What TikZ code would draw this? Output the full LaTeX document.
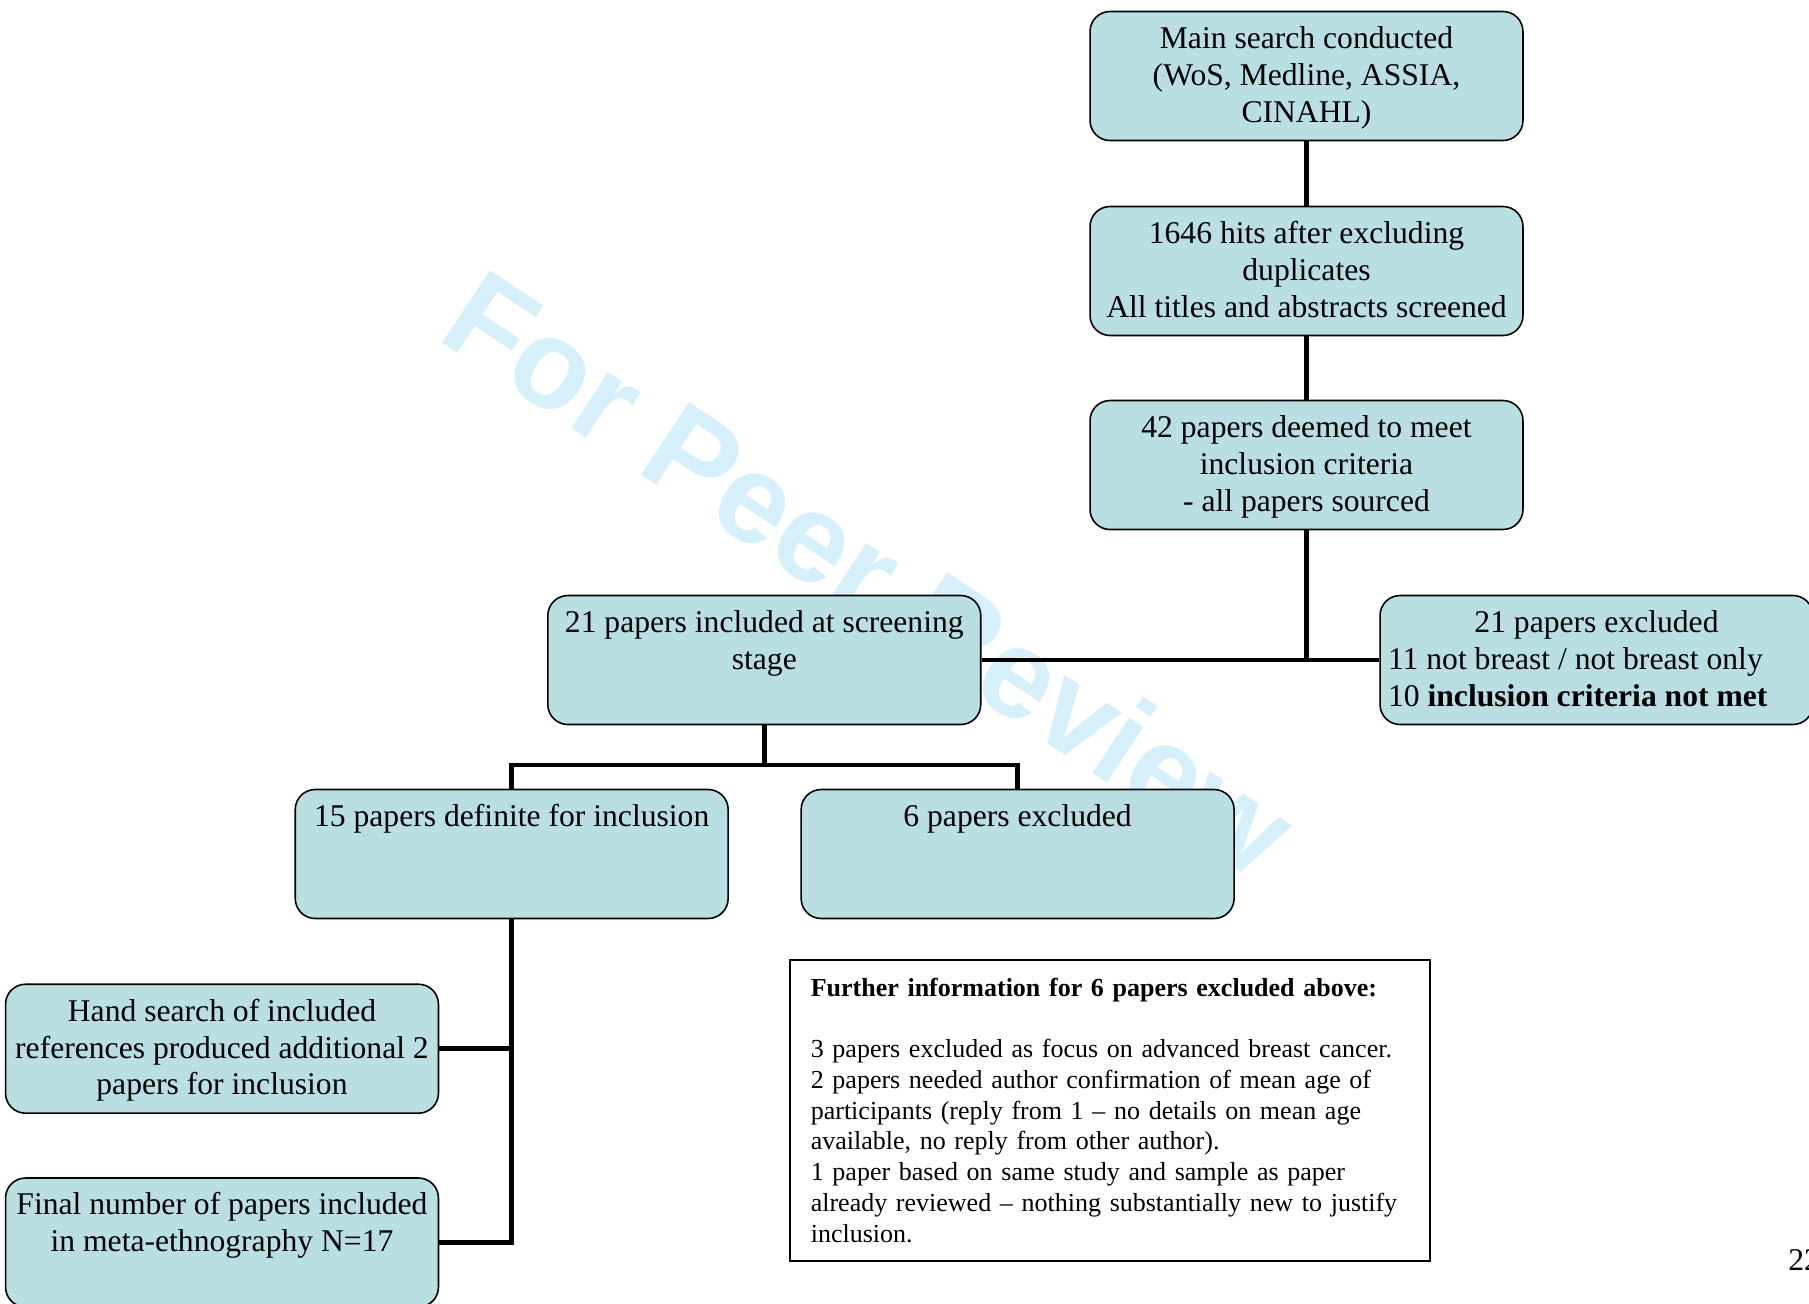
\documentclass[tikz,border=0pt]{standalone}
\usepackage{fontspec}
\setmainfont{Liberation Serif}
\newfontfamily\markfont{Liberation Sans}
\definecolor{stagefill}{RGB}{185,223,227}
\definecolor{markblue}{RGB}{214,240,251}
\newcommand{\stagetext}[1]{\parbox[c][2.58cm][t]{8.5cm}{\centering\rule{0pt}{21pt}#1\par}}
\newcommand{\flushline}[1]{\makebox[8.5cm][l]{\hspace*{0.08cm}#1}}
\tikzset{
  stage/.style={draw, rounded corners=0.4cm, fill=stagefill, line width=0.9pt,
    inner sep=0pt, minimum width=8.66cm, minimum height=2.58cm,
    font=\fontsize{18}{21}\selectfont},
  link/.style={line width=2.6pt},
}
\begin{document}
\begin{tikzpicture}[x=0.02cm, y=-0.02cm]
  \useasboundingbox (0,0) rectangle (1809,1303);
  \node[rotate=-33.5, anchor=base west, inner sep=0pt, text=markblue,
    font=\markfont\bfseries\fontsize{72}{72}\selectfont]
    (mark) at (435,338) {For Peer Review};
  \node[stage] (main) at (1306.5,76) {\stagetext{Main search conducted\\(WoS, Medline, ASSIA,\\CINAHL)}};
  \node[stage] (hits) at (1306.5,271) {\stagetext{1646 hits after excluding\\duplicates\\All titles and abstracts screened}};
  \node[stage] (criteria) at (1306.5,465) {\stagetext{42 papers deemed to meet\\inclusion criteria\\- all papers sourced}};
  \node[stage] (screen) at (764.3,660) {\stagetext{21 papers included at screening\\stage}};
  \node[stage] (excluded) at (1596.5,660) {\stagetext{21 papers excluded\\
    \flushline{11 not breast / not breast only}\\
    \flushline{10 \textbf{inclusion criteria not met}}}};
  \node[stage] (definite) at (511.7,854) {\stagetext{15 papers definite for inclusion}};
  \node[stage] (sixout) at (1017.6,854) {\stagetext{6 papers excluded}};
  \node[stage] (hand) at (222,1048.7) {\stagetext{Hand search of included\\references produced additional 2\\papers for inclusion}};
  \node[stage] (final) at (222,1242.5) {\stagetext{Final number of papers included\\in meta-ethnography N=17}};
  \node[draw, line width=0.9pt, anchor=north west, minimum width=12.81cm, minimum height=6.02cm,
    text width=11.97cm, inner xsep=0.42cm, align=left, font=\fontsize{14.8}{17.5}\selectfont]
    (info) at (789,959) {\textbf{Further information for 6 papers excluded above:}\\[17.5pt]
    3 papers excluded as focus on advanced breast cancer.\\
    2 papers needed author confirmation of mean age of\\
    participants (reply from 1 -- no details on mean age\\
    available, no reply from other author).\\
    1 paper based on same study and sample as paper\\
    already reviewed -- nothing substantially new to justify\\
    inclusion.};
  \node[anchor=west, inner sep=0pt, font=\fontsize{18}{21}\selectfont] (page) at (1788,1260) {22};
  \path (screen.south) ++(0,39.5) coordinate (fork);
  \begin{scope}[link]
    \draw (main.south) -- (hits.north);
    \draw (hits.south) -- (criteria.north);
    \draw (criteria.south) |- (screen.east);
    \draw (screen.east) -- (excluded.west);
    \draw (screen.south) -- (fork);
    \draw (definite.north) |- (fork) -| (sixout.north);
    \draw (definite.south) |- (final.east);
    \draw (hand.east) -- (hand.east -| definite.south);
  \end{scope}
\end{tikzpicture}
\end{document}
